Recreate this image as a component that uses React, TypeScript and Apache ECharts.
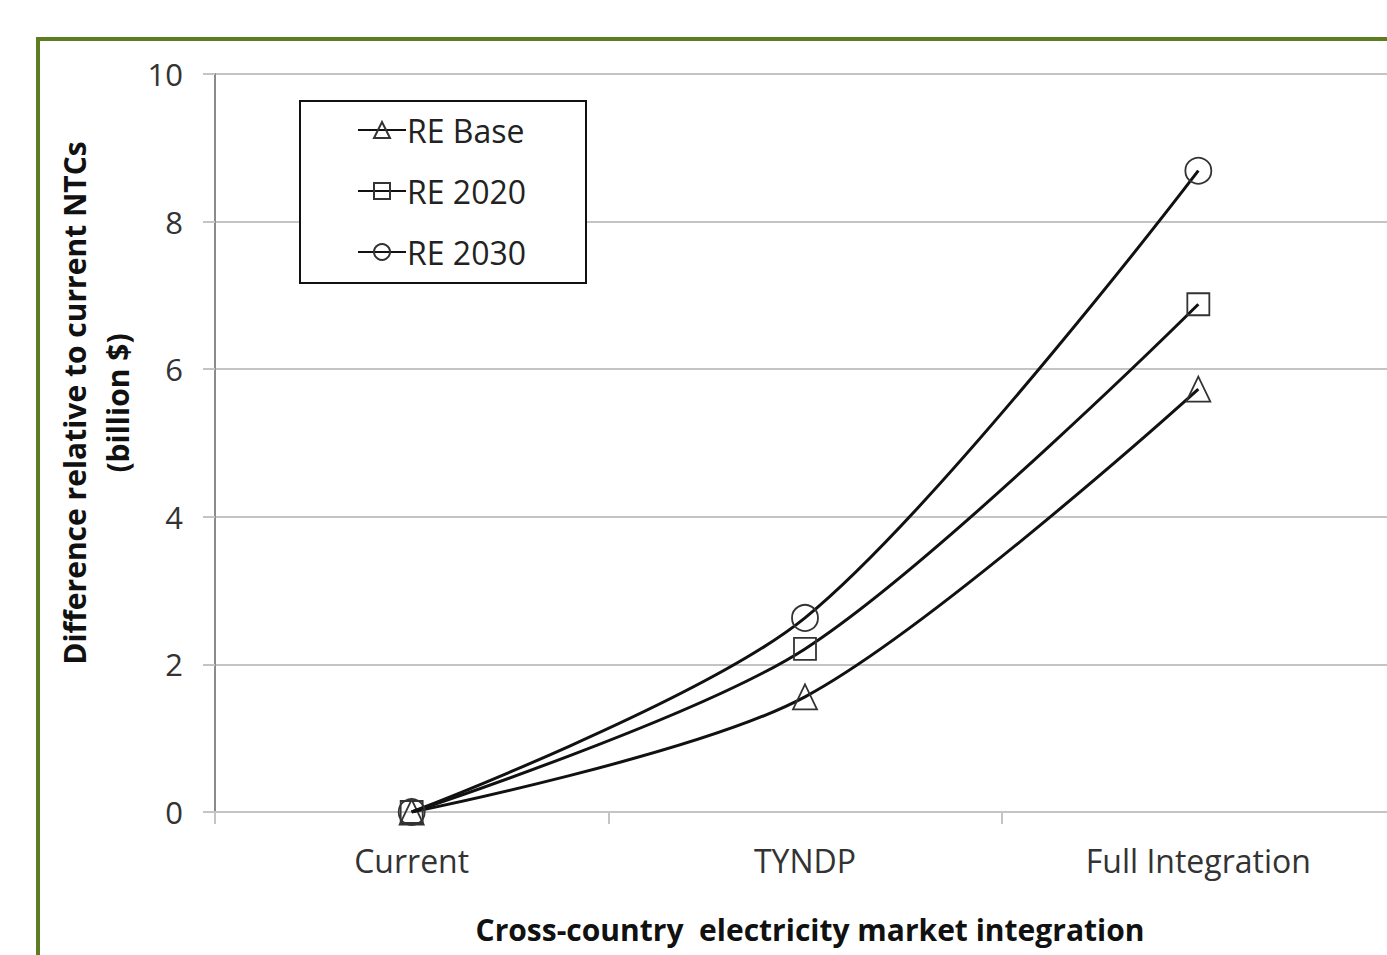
import React, { useEffect, useRef } from "react";
import * as echarts from "echarts";

const categories = ["Current", "TYNDP", "Full Integration"];
const reBase = [0, 1.56, 5.73];
const re2020 = [0, 2.21, 6.88];
const re2030 = [0, 2.63, 8.69];
const seriesNames = ["RE Base", "RE 2020", "RE 2030"];
const seriesSymbols = ["triangle", "rect", "circle"];
const seriesSizes = [[24, 25], [22, 22], [26, 26]];
const yTitle = "Difference relative to current NTCs\n(billion $)";
const xTitle = "Cross-country  electricity market integration";

const FONT = "Open Sans";

export default function App() {
  const ref = useRef<HTMLDivElement>(null);
  useEffect(() => {
    if (!ref.current) return;
    const chart = echarts.init(ref.current, null, { renderer: "svg" });
    const data = [reBase, re2020, re2030];
    chart.setOption({
      animation: false,
      backgroundColor: "#ffffff",
      grid: { left: 215, top: 74, width: 1180, height: 738, containLabel: false },
      graphic: [
        {
          type: "rect",
          z: -10,
          shape: { x: 38, y: 39, width: 1420, height: 1000 },
          style: { fill: "none", stroke: "#5E7D22", lineWidth: 4 },
          silent: true,
        },
        {
          type: "rect",
          z: 50,
          shape: { x: 300, y: 101, width: 286, height: 182 },
          style: { fill: "#ffffff", stroke: "#111111", lineWidth: 2 },
          silent: true,
        },
        {
          type: "text",
          z: 50,
          x: 96,
          y: 403,
          rotation: Math.PI / 2,
          style: {
            text: yTitle,
            fontFamily: FONT,
            fontSize: 30,
            fontWeight: "bold",
            fill: "#111",
            lineHeight: 43,
            align: "center",
            verticalAlign: "middle",
          },
          silent: true,
        },
      ],
      legend: {
        z: 60,
        orient: "vertical",
        left: 357,
        top: 114,
        padding: 0,
        itemWidth: 48,
        itemHeight: 20,
        itemGap: 29,
        textStyle: { fontFamily: FONT, fontSize: 32, color: "#222", padding: [0, 0, 0, -4] },
        data: seriesNames,
      },
      xAxis: {
        type: "category",
        data: categories,
        boundaryGap: true,
        axisLine: { lineStyle: { color: "#c4c4c4", width: 2 } },
        axisTick: { show: true, length: 12, lineStyle: { color: "#c4c4c4", width: 2 } },
        axisLabel: { fontFamily: FONT, fontSize: 32, color: "#333", margin: 32 },
        name: xTitle,
        nameLocation: "middle",
        nameGap: 102,
        nameTextStyle: { fontFamily: FONT, fontSize: 30, fontWeight: "bold", color: "#111", padding: [0, 0, 0, 10] },
      },
      yAxis: {
        type: "value",
        min: 0,
        max: 10,
        interval: 2,
        axisLine: { show: true, lineStyle: { color: "#8a8a8a", width: 2 } },
        axisTick: { show: true, length: 12, lineStyle: { color: "#c4c4c4", width: 2 } },
        splitLine: { lineStyle: { color: "#c4c4c4", width: 2 } },
        axisLabel: { fontFamily: FONT, fontSize: 31, color: "#333", margin: 32 },
      },
      series: seriesNames.map((name, i) => ({
        name,
        type: "line",
        data: data[i],
        smooth: 0.3,
        symbol: seriesSymbols[i],
        symbolSize: seriesSizes[i],
        showSymbol: true,
        lineStyle: { color: "#111111", width: 3 },
        itemStyle: { color: "rgba(255,255,255,0)", borderColor: "#333333", borderWidth: 1.8 },
        z: 3 + i,
      })),
    });
    return () => chart.dispose();
  }, []);
  return (
    <div
      ref={ref}
      style={{ position: "fixed", left: 0, top: 0, width: 1400, height: 955, background: "#fff" }}
    />
  );
}
